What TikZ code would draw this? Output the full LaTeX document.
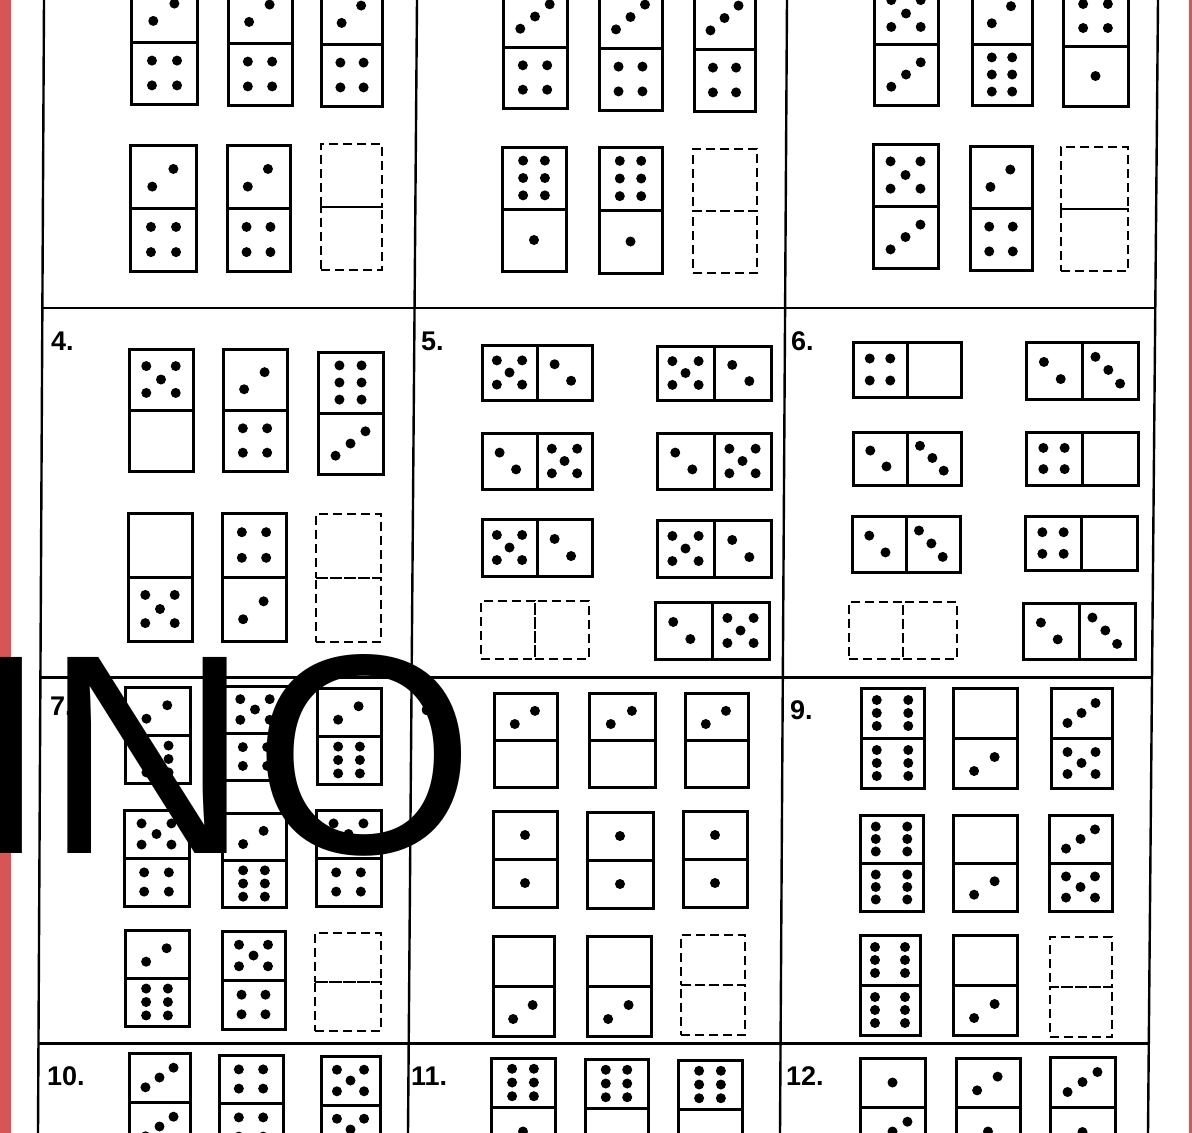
\documentclass[tikz,border=0pt]{standalone}
\usepackage{fontspec}
\setmainfont{Liberation Sans}
\usepackage{tikz}
\usetikzlibrary{calc}
\definecolor{edgered}{RGB}{215,85,85}
\tikzset{
    face/.style={draw=black, line width=3pt, inner sep=0pt, outer sep=0pt},
    blankface/.style={draw=black, line width=2.8pt, dash pattern=on 9pt off 5pt, inner sep=0pt, outer sep=0pt},
    gridline/.style={draw=black, line width=2.4pt},
    pip/.style={fill=black},
    tag/.style={font=\fontsize{27}{27}\selectfont\bfseries, anchor=base west, inner sep=0pt},
    stamp/.style={font=\fontsize{285}{285}\selectfont, anchor=base west, inner sep=0pt, text=black}
}
% pip layouts as fractions of one face (y points down)
\def\pipzero{}
\def\pipone{0/0}
\def\piptwo{-0.17/0.16,0.15/-0.12}
\def\piptwob{-0.18/-0.15,0.12/0.15}
\def\pipthree{-0.23/0.2,0/0,0.23/-0.2}
\def\pipthreeb{-0.26/-0.24,-0.03/-0.01,0.18/0.23}
\def\pipfour{-0.19/-0.2,0.19/-0.2,-0.19/0.2,0.19/0.2}
\def\pipfive{-0.23/-0.22,0.23/-0.22,0/0,-0.23/0.22,0.23/0.22}
\def\pipsix{-0.17/-0.28,0.17/-0.28,-0.17/0,0.17/0,-0.17/0.28,0.17/0.28}
\def\pipsixw{-0.25/-0.26,0.25/-0.26,-0.25/0,0.25/0,-0.25/0.26,0.25/0.26}
\newcommand{\putpips}[4]{%
  \ifx#4\pipzero\else
    \foreach \u/\v in #4 {\fill[pip] ($(#1.center)+(\u*#2,\v*#3)$) circle (5pt);}%
  \fi}
% name, centre x, divider y, width, face height, top, bottom
\newcommand{\vdom}[7]{%
  \node[face, minimum width=#4pt, minimum height=#5pt, anchor=south] (#1t) at (#2,#3) {};
  \node[face, minimum width=#4pt, minimum height=#5pt, anchor=north] (#1b) at (#2,#3) {};
  \putpips{#1t}{#4}{#5}{#6}\putpips{#1b}{#4}{#5}{#7}}
\newcommand{\vgap}[5]{%
  \node[blankface, minimum width=#4pt, minimum height=#5pt, anchor=south] (#1t) at (#2,#3) {};
  \node[blankface, minimum width=#4pt, minimum height=#5pt, anchor=north] (#1b) at (#2,#3) {};}
% name, divider x, centre y, face width, height, left, right
\newcommand{\hdom}[7]{%
  \node[face, minimum width=#4pt, minimum height=#5pt, anchor=east] (#1l) at (#2,#3) {};
  \node[face, minimum width=#4pt, minimum height=#5pt, anchor=west] (#1r) at (#2,#3) {};
  \putpips{#1l}{#4}{#5}{#6}\putpips{#1r}{#4}{#5}{#7}}
\newcommand{\hgap}[5]{%
  \node[blankface, minimum width=#4pt, minimum height=#5pt, anchor=east] (#1l) at (#2,#3) {};
  \node[blankface, minimum width=#4pt, minimum height=#5pt, anchor=west] (#1r) at (#2,#3) {};}

\begin{document}
\begin{tikzpicture}[x=1pt, y=-1pt]
\useasboundingbox (0,0) rectangle (1192,1133);
\clip (0,0) rectangle (1192,1133);
\fill[white] (0,0) rectangle (1192,1133);

% red page margins
\fill[edgered] (0,0) rectangle (11,1133);
\fill[edgered] (1189,0) rectangle (1192,1133);

% grid of the sheet
\coordinate (top0) at (44,0);   \coordinate (bot0) at (38,1133);
\coordinate (top1) at (417,0);  \coordinate (bot1) at (408,1133);
\coordinate (top2) at (787,0);  \coordinate (bot2) at (780,1133);
\coordinate (top3) at (1158,0); \coordinate (bot3) at (1148,1133);
\foreach \i in {0,...,3} \draw[gridline] (top\i) -- (bot\i);
\foreach \f in {0.272,0.598,0.921} \draw[gridline] ($(top0)!\f!(bot0)$) -- ($(top3)!\f!(bot3)$);

% Panel 1
\vdom{p1a}{164.5}{42}{66}{62}{\piptwo}{\pipfour}
\vdom{p1b}{260}{43}{64}{62}{\piptwo}{\pipfour}
\vdom{p1c}{352}{44}{61}{62}{\piptwo}{\pipfour}
\vdom{p1d}{163.5}{208}{66}{63}{\piptwo}{\pipfour}
\vdom{p1e}{258.5}{208}{63}{63}{\piptwo}{\pipfour}
\vgap{p1f}{351.5}{207}{61}{63}

% Panel 2
\vdom{p2a}{535}{47}{64}{61}{\pipthree}{\pipfour}
\vdom{p2b}{630.5}{48}{63}{62}{\pipthree}{\pipfour}
\vdom{p2c}{724.5}{49}{61}{62}{\pipthree}{\pipfour}
\vdom{p2d}{534}{209}{64}{62}{\pipsix}{\pipone}
\vdom{p2e}{630.5}{210}{63}{63}{\pipsix}{\pipone}
\vgap{p2f}{725}{211}{64}{62}

% Panel 3
\vdom{p3a}{906}{44}{64}{61}{\pipfive}{\pipthree}
\vdom{p3b}{1002}{44}{60}{61}{\piptwo}{\pipsix}
\vdom{p3c}{1095.5}{46}{65}{60}{\pipfour}{\pipone}
\vdom{p3d}{905.5}{206}{65}{62}{\pipfive}{\pipthree}
\vdom{p3e}{1001}{208}{62}{62}{\piptwo}{\pipfour}
\vgap{p3f}{1094.5}{209}{67}{62}

% Panel 4
\node[tag] (t4) at (51,350) {4.};
\vdom{p4a}{161}{410}{64}{61}{\pipfive}{\pipzero}
\vdom{p4b}{255}{410}{64}{61}{\piptwo}{\pipfour}
\vdom{p4c}{350.5}{413}{65}{61}{\pipsix}{\pipthree}
\vdom{p4d}{160}{577}{64}{64}{\pipzero}{\pipfive}
\vdom{p4e}{254}{577}{64}{64}{\pipfour}{\piptwo}
\vgap{p4f}{348.5}{578}{65}{64}

% Panel 5
\node[tag] (t5) at (421,350) {5.};
\hdom{p5a}{537}{372.5}{55}{55}{\pipfive}{\piptwob}
\hdom{p5b}{537}{461}{55}{56}{\piptwob}{\pipfive}
\hdom{p5c}{537}{547.5}{55}{57}{\pipfive}{\piptwob}
\hgap{p5d}{535}{630}{54}{58}
\hdom{p5e}{714}{373}{57}{54}{\pipfive}{\piptwob}
\hdom{p5f}{714}{461}{57}{56}{\piptwob}{\pipfive}
\hdom{p5g}{714}{548.5}{57}{57}{\pipfive}{\piptwob}
\hdom{p5h}{712}{630.5}{57}{57}{\piptwob}{\pipfive}

% Panel 6
\node[tag] (t6) at (791,350) {6.};
\hdom{p6a}{907}{369.5}{54}{55}{\pipfour}{\pipzero}
\hdom{p6b}{907}{458.5}{54}{53}{\piptwob}{\pipthreeb}
\hdom{p6c}{906}{544}{54}{56}{\piptwob}{\pipthreeb}
\hgap{p6d}{903}{630.5}{54}{57}
\hdom{p6e}{1082}{370.5}{56}{57}{\piptwob}{\pipthreeb}
\hdom{p6f}{1082}{458.5}{56}{53}{\pipfour}{\pipzero}
\hdom{p6g}{1081}{543}{56}{54}{\pipfour}{\pipzero}
\hdom{p6h}{1079}{631}{56}{56}{\piptwob}{\pipthreeb}

% Panel 7
\node[tag] (t7) at (50,715) {7.};
\vdom{p7a}{157.5}{735}{65}{48}{\piptwo}{\pipsix}
\vdom{p7b}{255}{733}{64}{47}{\pipfive}{\pipfour}
\vdom{p7c}{349}{736}{64}{48}{\piptwo}{\pipsix}
\vdom{p7d}{156.5}{858}{65}{48}{\pipfive}{\pipfour}
\vdom{p7e}{254}{860}{64}{47}{\piptwo}{\pipsix}
\vdom{p7f}{348.5}{858}{65}{48}{\pipfive}{\pipfour}
\vdom{p7g}{157}{978}{64}{48}{\piptwo}{\pipsix}
\vdom{p7h}{253.5}{980}{63}{49}{\pipfive}{\pipfour}
\vgap{p7i}{348}{982}{66}{49}

% Panel 8
\node[tag] (t8) at (421,715) {8.};
\vdom{p8a}{525.5}{740}{63}{47}{\piptwo}{\pipzero}
\vdom{p8b}{622}{740}{66}{47}{\piptwo}{\pipzero}
\vdom{p8c}{716.5}{740}{63}{47}{\piptwo}{\pipzero}
\vdom{p8d}{525}{859}{64}{48}{\pipone}{\pipone}
\vdom{p8e}{620}{860}{66}{48}{\pipone}{\pipone}
\vdom{p8f}{715}{859}{64}{48}{\pipone}{\pipone}
\vdom{p8g}{523.5}{986}{61}{50}{\pipzero}{\piptwo}
\vdom{p8h}{619}{986}{64}{50}{\pipzero}{\piptwo}
\vgap{p8i}{713}{985}{64}{50}

% Panel 9
\node[tag] (t9) at (790,719) {9.};
\vdom{p9a}{892.5}{738}{63}{50}{\pipsixw}{\pipsixw}
\vdom{p9b}{985}{738}{64}{50}{\pipzero}{\piptwo}
\vdom{p9c}{1081.5}{738}{61}{50}{\pipthree}{\pipfive}
\vdom{p9d}{891.5}{863}{63}{48}{\pipsixw}{\pipsixw}
\vdom{p9e}{985}{863}{64}{48}{\pipzero}{\piptwo}
\vdom{p9f}{1080.5}{863}{63}{48}{\pipthree}{\pipfive}
\vdom{p9g}{890}{985}{60}{50}{\pipsixw}{\pipsixw}
\vdom{p9h}{985}{985}{64}{50}{\pipzero}{\piptwo}
\vgap{p9i}{1081}{987}{62}{50}

% Panel 10
\node[tag] (t10) at (47,1085) {10.};
\vdom{p10a}{159.5}{1102}{61}{49}{\pipthree}{\pipthree}
\vdom{p10b}{251}{1103}{64}{48}{\pipfour}{\pipfour}
\vdom{p10c}{350.5}{1105}{59}{49}{\pipfive}{\pipfive}

% Panel 11
\node[tag] (t11) at (411,1085) {11.};
\vdom{p11a}{523}{1107}{64}{49}{\pipsix}{\pipone}
\vdom{p11b}{616.5}{1108}{63}{49}{\pipsix}{\pipzero}
\vdom{p11c}{710}{1109}{64}{49}{\pipsix}{\pipzero}

% Panel 12
\node[tag] (t12) at (786,1085) {12.};
\vdom{p12a}{892.5}{1107}{65}{49}{\pipone}{\pipthree}
\vdom{p12b}{988}{1107}{64}{49}{\piptwo}{\pipone}
\vdom{p12c}{1082.5}{1107}{65}{50}{\pipthree}{\pipone}

% big lettering over the sheet
\node[stamp] (ino) at (-30.5,853) {I\kern-4pt N\kern3pt O};
\end{tikzpicture}
\end{document}
